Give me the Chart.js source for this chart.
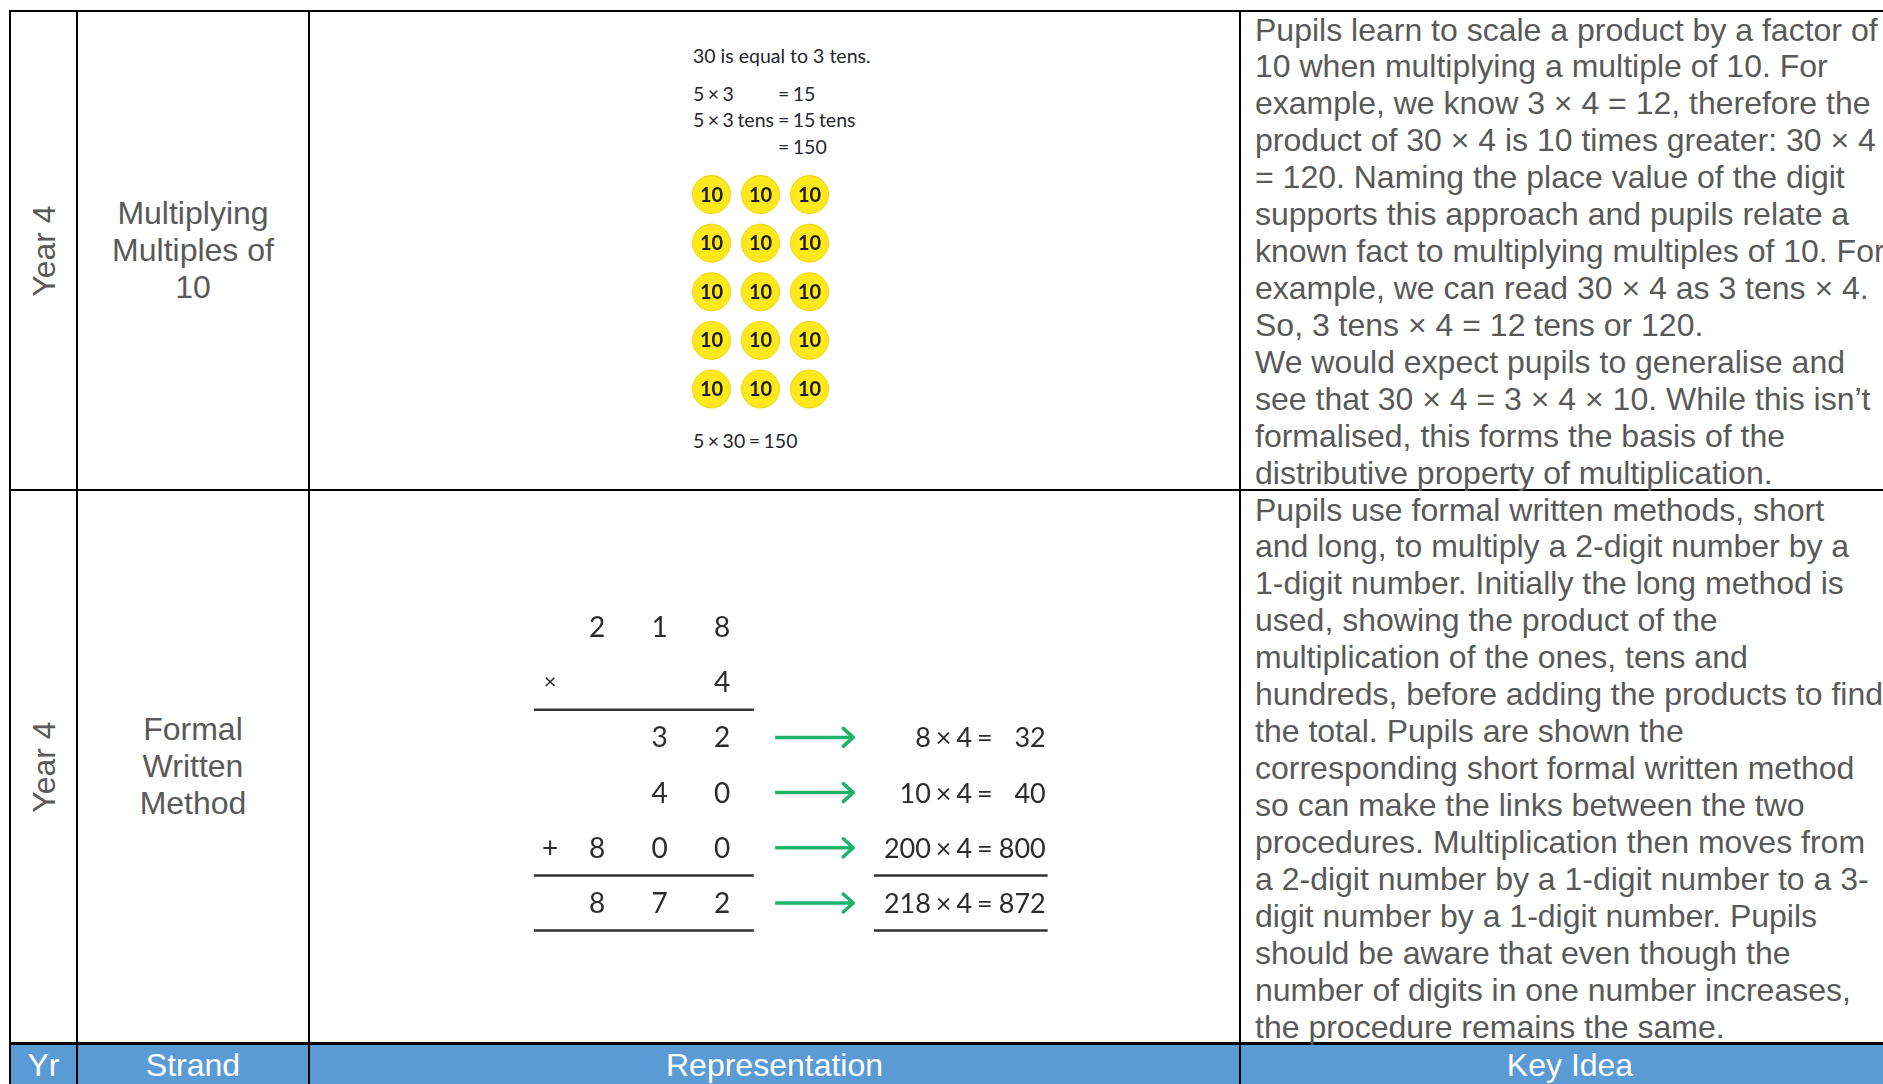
<!DOCTYPE html>
<html><head><meta charset="utf-8">
<script src="https://cdn.jsdelivr.net/npm/chart.js@4.4.1/dist/chart.umd.min.js"></script>
<style>
html,body{margin:0;padding:0;background:#fff;width:1883px;height:1084px;overflow:hidden;}
body{position:relative;}
.ln{position:absolute;background:#000;}
.t{position:absolute;font-family:"Liberation Sans",Arimo,Arial,sans-serif;font-size:32px;color:#595959;line-height:36.93px;white-space:nowrap;}
.rep{position:absolute;font-family:Lato,"Open Sans",sans-serif;font-size:19.5px;color:#26262e;line-height:20px;white-space:nowrap;}
.fact{word-spacing:-1.5px;}
canvas{position:absolute;}
</style></head><body>
<div id="root"></div>
<script>
// ---------- data ----------
const headerLabels = ['Yr', 'Strand', 'Representation', 'Key Idea'];
const yearLabels = ['Year 4', 'Year 4'];
const strandLabels = [['Multiplying', 'Multiples of', '10'], ['Formal', 'Written', 'Method']];
const keyIdeaRow1 = [
  'Pupils learn to scale a product by a factor of',
  '10 when multiplying a multiple of 10. For',
  'example, we know 3 × 4 = 12, therefore the',
  'product of 30 × 4 is 10 times greater: 30 × 4',
  '= 120. Naming the place value of the digit',
  'supports this approach and pupils relate a',
  'known fact to multiplying multiples of 10. For',
  'example, we can read 30 × 4 as 3 tens × 4.',
  'So, 3 tens × 4 = 12 tens or 120.',
  'We would expect pupils to generalise and',
  'see that 30 × 4 = 3 × 4 × 10. While this isn’t',
  'formalised, this forms the basis of the',
  'distributive property of multiplication.'
];
const keyIdeaRow2 = [
  'Pupils use formal written methods, short',
  'and long, to multiply a 2-digit number by a',
  '1-digit number. Initially the long method is',
  'used, showing the product of the',
  'multiplication of the ones, tens and',
  'hundreds, before adding the products to find',
  'the total. Pupils are shown the',
  'corresponding short formal written method',
  'so can make the links between the two',
  'procedures. Multiplication then moves from',
  'a 2-digit number by a 1-digit number to a 3-',
  'digit number by a 1-digit number. Pupils',
  'should be aware that even though the',
  'number of digits in one number increases,',
  'the procedure remains the same.'
];
// representation 1: counters
const introText = '30 is equal to 3 tens.';
const factLeft = ['5 × 3', '5 × 3 tens', ''];
const factRight = ['= 15', '= 15 tens', '= 150'];
const resultText = '5 × 30 = 150';
const counterRows = [1, 2, 3, 4, 5];
const counterCols = [1, 2, 3];
const counterValue = 10;
// representation 2: column multiplication
const multiplicandDigits = [2, 1, 8];
const multiplierDigits = [4];
const partialProducts = [32, 40, 800];
const totalProduct = [872];
const equationLeft = ['8 × 4 =', '10 × 4 =', '200 × 4 =', '218 × 4 ='];
const equationRight = ['32', '40', '800', '872'];

// ---------- layout ----------
const root = document.getElementById('root');
function el(cls, css, html){ const d=document.createElement('div'); d.className=cls; d.style.cssText=css; if(html!==undefined) d.innerHTML=html; root.appendChild(d); return d; }
const colX = [10, 77, 309, 1240, 1900];
const rowY = [11, 490, 1043.5];
// header band
el('ln', 'left:11px;top:1045px;width:1890px;height:40px;background:#5B9BD5;');
// lines
el('ln', 'left:9px;top:10px;width:1900px;height:2px;');
el('ln', 'left:9px;top:489px;width:1900px;height:2px;');
el('ln', 'left:9px;top:1042px;width:1900px;height:3px;');
colX.slice(0,4).forEach(x => el('ln', `left:${x-1}px;top:10px;width:2px;height:1080px;`));

// headers
headerLabels.forEach((h,i)=>{
  const cx = (colX[i]+colX[i+1])/2;
  el('t', `left:${cx}px;top:1046.5px;transform:translateX(-50%);color:#fff;`, h);
});
// years
yearLabels.forEach((y,i)=>{
  const cy = (rowY[i]+rowY[i+1])/2;
  el('t', `left:43.5px;top:${cy}px;transform:translate(-50%,-50%) rotate(-90deg);`, y);
});
// strands
strandLabels.forEach((s,i)=>{
  el('t', `left:78px;width:230px;top:${rowY[i]+1}px;height:${rowY[i+1]-rowY[i]-2}px;display:flex;align-items:center;justify-content:center;text-align:center;white-space:normal;`, '<div>'+s.join('<br>')+'</div>');
});
// key ideas
[keyIdeaRow1, keyIdeaRow2].forEach((lines,i)=>{
  el('t', `left:1255px;top:${[11.5,491.5][i]}px;`, lines.join('<br>'));
});
// representation texts (row 1)
el('rep', 'left:693px;top:46px;', introText);
factLeft.forEach((f,i)=>{
  const top = [84, 110, 136.5][i];
  if (f) el('rep fact', `left:693px;top:${top}px;`, f);
  el('rep fact', `left:778px;top:${top}px;`, factRight[i]);
});
el('rep fact', 'left:693px;top:431px;', resultText);

// ---------- charts ----------
function calib(p1, p2, v1, v2, start, len){
  const unit = (p2-p1)/(v2-v1);
  const min = v1 - (p1-start)/unit;
  return {min, max: min + len/unit};
}
function makeCanvas(left, top, w, h){
  const c = document.createElement('canvas');
  c.width = w; c.height = h;
  c.style.left = left+'px'; c.style.top = top+'px';
  c.style.width = w+'px'; c.style.height = h+'px';
  root.appendChild(c);
  return c;
}
const baseOpts = (xr, yr) => ({
  responsive:false, animation:false, devicePixelRatio:1, events:[],
  layout:{padding:0, autoPadding:false},
  plugins:{legend:{display:false}, tooltip:{enabled:false}},
  scales:{
    x:{type:'linear', display:false, min:xr.min, max:xr.max},
    y:{type:'linear', display:false, min:yr.min, max:yr.max, reverse:true}
  }
});

// Counters chart
(function(){
  const L=680, T=165, W=160, H=250;
  const c = makeCanvas(L,T,W,H);
  const xr = calib(711.5, 809.5, 1, 3, L, W);
  const yr = calib(194.5, 389, 1, 5, T, H);
  const pts = counterRows.flatMap(r => counterCols.map(col => ({x:col, y:r, v:counterValue})));
  const labelPlugin = {
    id:'counterLabels',
    afterDatasetsDraw(chart){
      const ctx = chart.ctx, meta = chart.getDatasetMeta(0), ds = chart.data.datasets[0];
      ctx.save();
      ctx.font = 'bold 20px Lato, sans-serif';
      ctx.fillStyle = '#1e1e1e';
      ctx.textAlign = 'center'; ctx.textBaseline = 'alphabetic';
      meta.data.forEach((p,i)=> ctx.fillText(String(ds.data[i].v), p.x, p.y + 7));
      ctx.restore();
    }
  };
  new Chart(c, {
    type:'scatter',
    data:{datasets:[{data:pts, pointRadius:19, pointBackgroundColor:'#FFE81C', pointBorderColor:'#F0D400', pointBorderWidth:1, showLine:false}]},
    options: baseOpts(xr, yr),
    plugins:[labelPlugin]
  });
})();

// Column multiplication chart
(function(){
  const L=500, T=590, W=600, H=370;
  const c = makeCanvas(L,T,W,H);
  const xr = calib(597, 722, 1, 3, L, W);
  const yr = calib(627, 903, 1, 6, T, H);
  const rows = [
    {num: multiplicandDigits.join(''), sign:''},
    {num: multiplierDigits.join(''), sign:'×'},
    ...partialProducts.map((p,i)=>({num:String(p), sign: i===partialProducts.length-1 ? '+' : ''})),
    {num: String(totalProduct[0]), sign:''}
  ];
  const onesCol = 3, signCol = 0.25;
  const digitPts = [];
  rows.forEach((r,ri)=>{
    const s = r.num.split('');
    s.forEach((d,k)=> digitPts.push({x: onesCol - (s.length-1-k), y: ri+1, t:d}));
    if (r.sign) digitPts.push({x: signCol, y: ri+1, t:r.sign});
  });
  const firstProdRow = 3;
  const eqRows = equationLeft.map((_,i)=> firstProdRow + i);
  const arrowFrom = 3.85, arrowTo = 5.1, eqLeftEnd = 7.33, eqRightEnd = 8.18;
  const ruleRowsLeft = [2, firstProdRow + partialProducts.length - 1, rows.length];
  const ruleRowsRight = [firstProdRow + partialProducts.length - 1, rows.length];
  const datasets = [];
  datasets.push({type:'scatter', label:'digits', data:digitPts, pointRadius:0, showLine:false});
  ruleRowsLeft.forEach(r => datasets.push({type:'line', label:'rule', data:[{x:-0.01,y:r+0.5},{x:3.51,y:r+0.5}], borderColor:'#333', borderWidth:2.5, pointRadius:0}));
  ruleRowsRight.forEach(r => datasets.push({type:'line', label:'rule', data:[{x:5.43,y:r+0.5},{x:8.21,y:r+0.5}], borderColor:'#333', borderWidth:2.5, pointRadius:0}));
  eqRows.forEach(r => datasets.push({type:'line', label:'arrow', data:[{x:arrowFrom,y:r},{x:arrowTo,y:r}], borderColor:'#1DB36B', borderWidth:3.5, pointRadius:0, borderCapStyle:'butt'}));
  datasets.push({type:'scatter', label:'equations', data:eqRows.map((r,i)=>({x:eqRightEnd, y:r, l:equationLeft[i], rt:equationRight[i]})), pointRadius:0, showLine:false});

  const textPlugin = {
    id:'colText',
    afterDatasetsDraw(chart){
      const ctx = chart.ctx;
      const xs = chart.scales.x;
      ctx.save();
      chart.data.datasets.forEach((ds, di)=>{
        const meta = chart.getDatasetMeta(di);
        if (ds.label === 'digits'){
          ctx.fillStyle = '#2b2b30';
          ctx.textAlign = 'center'; ctx.textBaseline = 'alphabetic';
          meta.data.forEach((p,i)=>{
            const t = ds.data[i].t;
            ctx.font = (t === '×' ? '22px' : '28px') + ' Lato, sans-serif';
            ctx.fillText(t, p.x, p.y + (t === '×' ? 7 : 10));
          });
        } else if (ds.label === 'arrow'){
          const p = meta.data[1];
          ctx.strokeStyle = '#1DB36B'; ctx.lineWidth = 3.5; ctx.lineCap='round'; ctx.lineJoin='round';
          ctx.beginPath();
          ctx.moveTo(p.x - 10, p.y - 9); ctx.lineTo(p.x, p.y); ctx.lineTo(p.x - 10, p.y + 9);
          ctx.stroke();
        } else if (ds.label === 'equations'){
          ctx.font = '27px Lato, sans-serif'; ctx.fillStyle = '#2b2b30';
          ctx.textAlign = 'right'; ctx.textBaseline = 'alphabetic';
          ctx.wordSpacing = '-2px';
          const lx = xs.getPixelForValue(eqLeftEnd);
          meta.data.forEach((p,i)=>{
            ctx.fillText(ds.data[i].l, lx, p.y + 10);
            ctx.fillText(ds.data[i].rt, p.x, p.y + 10);
          });
        }
      });
      ctx.restore();
    }
  };
  new Chart(c, {
    type:'scatter',
    data:{datasets},
    options: baseOpts(xr, yr),
    plugins:[textPlugin]
  });
})();
</script>
</body></html>
